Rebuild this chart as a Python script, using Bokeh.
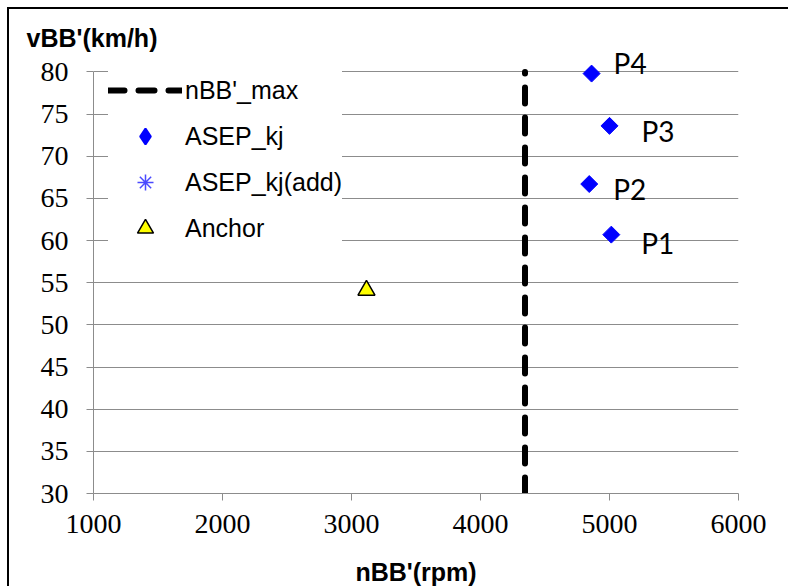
import math
from bokeh.plotting import figure
from bokeh.models import (FixedTicker, Legend, LegendItem, Range1d, LabelSet,
                          ColumnDataSource)
from bokeh.core.properties import value
from bokeh.embed import file_html
from bokeh.resources import INLINE

# ---- data ----
nbb_max_x = [4345, 4345]
nbb_max_y = [30, 80]
asep_x = [5014, 4843, 5000, 4861]
asep_y = [60.7, 66.7, 73.6, 79.8]
asep_labels = ["P1", "P2", "P3", "P4"]
asep_add_x = [float("nan")]   # series with no plotted points
asep_add_y = [float("nan")]
anchor_x = [3116]
anchor_y = [54.1]
x_ticks = [1000, 2000, 3000, 4000, 5000, 6000]
y_ticks = [30, 35, 40, 45, 50, 55, 60, 65, 70, 75, 80]

# label placement (pixels, relative to each point)
label_dx = [30, 24, 32, 22]
label_dy = [-19, -16, -16, 0]

FONT = "Liberation Sans"
TICK_FONT = "Liberation Sans Narrow"
GRID = "#8c8c8c"

p = figure(frame_width=645, frame_height=441,
           min_border_left=84, min_border_right=50,
           min_border_top=43, min_border_bottom=93,
           x_range=Range1d(x_ticks[0], x_ticks[-1]),
           y_range=Range1d(y_ticks[0], 82.3),
           output_backend="svg", toolbar_location=None,
           background_fill_color="white", border_fill_color="white",
           styles={"margin-left": "7px", "margin-top": "7px",
                   "border-left": "2px solid black", "border-top": "2px solid black"})
p.outline_line_color = None

# title (y-axis caption, horizontal at top-left)
p.title.text = "vBB'(km/h)"
p.title.align = "left"
p.title.offset = -67
p.title.standoff = 2
p.title.text_font = FONT
p.title.text_font_size = "25px"
p.title.text_font_style = "bold"
p.title.text_color = "black"

# axes
for ax in (p.xaxis[0], p.yaxis[0]):
    ax.axis_line_color = GRID
    ax.major_tick_line_color = GRID
    ax.major_tick_out = 7
    ax.major_tick_in = 0
    ax.minor_tick_line_color = None
    ax.major_label_text_font = TICK_FONT
    ax.major_label_text_font_size = "28px"
    ax.major_label_text_color = "black"
p.xaxis.ticker = FixedTicker(ticks=x_ticks)
p.yaxis.ticker = FixedTicker(ticks=y_ticks)
p.yaxis.bounds = (y_ticks[0], y_ticks[-1])
p.yaxis.major_label_standoff = 18
p.xaxis.major_label_standoff = 14
p.xaxis.axis_label = "nBB'(rpm)"
p.xaxis.axis_label_text_font = FONT
p.xaxis.axis_label_text_font_size = "25px"
p.xaxis.axis_label_text_font_style = "bold"
p.xaxis.axis_label_text_color = "black"
p.xaxis.axis_label_standoff = 22

p.xgrid.grid_line_color = None
p.ygrid.grid_line_color = GRID
p.ygrid.grid_line_width = 1

# series
r_max = p.line(nbb_max_x, nbb_max_y, line_color="black", line_width=6,
               line_dash="16 14", line_cap="round")
r_asep = p.scatter(asep_x, asep_y, marker="square", angle=math.pi / 4, size=12,
                   fill_color="#0000ff", line_color="#0000ff")
r_asep_key = p.scatter(asep_add_x, asep_add_y, marker="diamond", size=12,
                       fill_color="#0000ff", line_color="#0000ff", line_width=2)
r_add = p.scatter(asep_add_x, asep_add_y, marker="asterisk", size=12,
                  line_color="#4a4aff", line_width=1.5)
r_anchor = p.scatter(anchor_x, anchor_y, marker="triangle", size=17,
                     fill_color="#ffff00", line_color="black", line_width=1.5)

src = ColumnDataSource(dict(x=asep_x, y=asep_y, t=asep_labels, dx=label_dx, dy=label_dy))
labels = LabelSet(x="x", y="y", text="t", x_offset="dx", y_offset="dy", source=src,
                  text_font=value("Lato"), text_font_size="28px", text_color="black",
                  text_align="left", text_baseline="alphabetic")
p.add_layout(labels)

legend = Legend(items=[
    LegendItem(label="nBB'_max", renderers=[r_max]),
    LegendItem(label="ASEP_kj", renderers=[r_asep_key]),
    LegendItem(label="ASEP_kj(add)", renderers=[r_add]),
    LegendItem(label="Anchor", renderers=[r_anchor]),
], location=(15, 245), padding=10, spacing=6, margin=0,
   glyph_width=74, glyph_height=40, label_height=40, label_standoff=3,
   label_text_font=FONT, label_text_font_size="25px", label_text_color="black",
   background_fill_color="white", background_fill_alpha=1.0,
   border_line_color=None)
p.add_layout(legend)

open("out.html", "w").write(file_html(p, INLINE))
